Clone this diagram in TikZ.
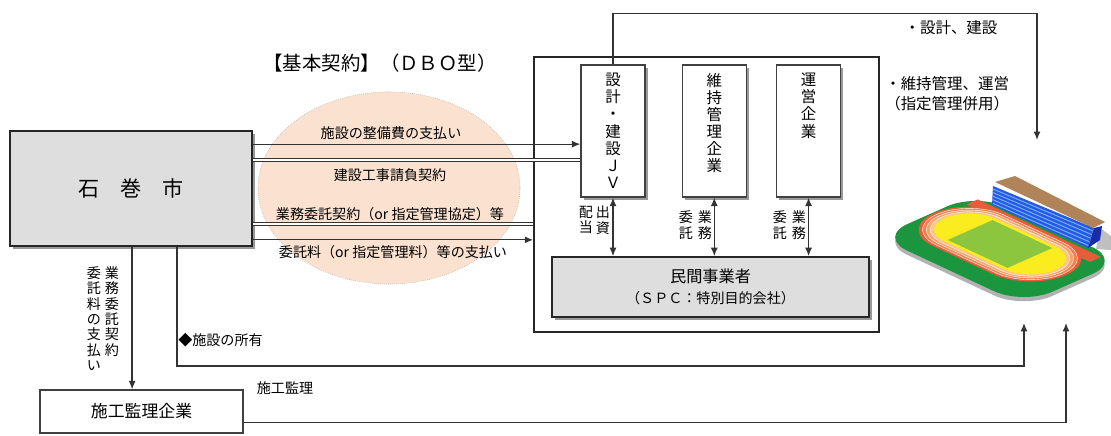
\documentclass[tikz,border=0pt]{standalone}
\usepackage{fontspec}
\setmainfont{Noto Sans CJK JP}
\usetikzlibrary{positioning, calc, shadows, shapes.geometric, arrows.meta}

\definecolor{peach}{RGB}{251,226,208}
\definecolor{boxgray}{RGB}{222,222,222}
\definecolor{turf}{RGB}{28,150,62}
\definecolor{lane1}{RGB}{232,92,58}
\definecolor{lane2}{RGB}{240,128,78}
\definecolor{lane3}{RGB}{246,162,105}
\definecolor{lane4}{RGB}{250,196,140}
\definecolor{sand}{RGB}{250,236,30}
\definecolor{pitch}{RGB}{140,198,62}
\definecolor{seat}{RGB}{40,90,225}
\definecolor{seatrow}{RGB}{110,175,255}
\definecolor{seatend}{RGB}{25,45,170}
\definecolor{roof}{RGB}{176,132,88}

% oval running track: half straight, radius
\newcommand{\runway}[2]{(-#1,-#2) -- (#1,-#2) arc[start angle=-90, end angle=90, radius=#2] -- (-#1,#2) arc[start angle=90, end angle=270, radius=#2] -- cycle}
% four-corner patch on the ground plane
\newcommand{\patch}[4]{(#1,#2) -- (#3,#2) -- (#3,#4) -- (#1,#4) -- cycle}
% patch with round corners: u1, v1, u2, v2, radius
\newcommand{\ground}[5]{({#1+#5},#2) -- ({#3-#5},#2) arc[start angle=-90, end angle=0, radius=#5] -- (#3,{#4-#5}) arc[start angle=0, end angle=90, radius=#5] -- ({#1+#5},#4) arc[start angle=90, end angle=180, radius=#5] -- (#1,{#2+#5}) arc[start angle=180, end angle=270, radius=#5] -- cycle}

\tikzset{
	>={Latex[length=6pt,width=5pt]}, % filled triangular heads
	flow/.style={line width=0.9pt, draw=black!80}, % ordinary connector
	pact/.style={double=white, double distance=1.5pt, line width=0.6pt, draw=black!80}, % contract line
	dropshade/.style={drop shadow={shadow xshift=2pt, shadow yshift=-2pt, fill=black!40, opacity=1}},
	orgbox/.style={draw=black!85, line width=1.2pt, fill=boxgray, dropshade}, % city and SPC
	firmbox/.style={draw=black!75, line width=0.9pt, fill=white, minimum width=1.6cm, minimum height=3.3cm, dropshade}, % member firms
	vtext/.style={align=center, inner sep=0pt, font=\fontsize{11}{12.2}\selectfont}, % text set top to bottom
	vsmall/.style={align=center, inner sep=0pt, font=\fontsize{10}{11}\selectfont},
	lbl/.style={inner sep=0pt, font=\fontsize{10}{12}\selectfont},
}

\begin{document}
\begin{tikzpicture}[x=0.025cm, y=-0.025cm]
	\useasboundingbox (0,0) rectangle (1111,435);

	% contract bubble behind the flows
	\node[ellipse, draw=black!35, densely dotted, fill=peach, minimum width=6.55cm, minimum height=4.8cm] (bubble) at (389,188) {};

	% parties
	\node[orgbox, minimum width=6.05cm, minimum height=2.875cm, font=\fontsize{15}{18}\selectfont] (city) at (131,188.5) {石\quad 巻\quad 市};
	\node[draw=black!85, line width=1.1pt, minimum width=8.625cm, minimum height=6.875cm] (frame) at (706.5,194.5) {};
	\node[firmbox] (jv) at (613,131) {};
	\node[firmbox, right=0.9cm of jv] (maint) {};
	\node[firmbox, right=0.725cm of maint] (ops) {};
	\node[orgbox, minimum width=7.925cm, minimum height=1.5cm, align=center, font=\fontsize{11.5}{15}\selectfont] (spc) at (710.5,287) {民間事業者\\{\fontsize{10}{13}\selectfont （ＳＰＣ：特別目的会社）}};
	\node[draw=black!75, line width=0.9pt, fill=white, minimum width=5.075cm, minimum height=1.075cm, font=\fontsize{12}{14}\selectfont] (super) at (141.5,411.5) {施工監理企業};

	\node[vtext, below=6pt of jv.north] (jvname) {設\\計\\・\\建\\設\\Ｊ\\Ｖ};
	\node[vtext, below=6pt of maint.north] (maintname) {維\\持\\管\\理\\企\\業};
	\node[vtext, below=6pt of ops.north] (opsname) {運\\営\\企\\業};

	% payments and contracts
	\coordinate (pay1) at ($(city.north east)+(0,14)$);
	\coordinate (pact1) at ($(city.north east)+(0,30)$);
	\coordinate (pact2) at ($(city.south east)+(0,-23)$);
	\coordinate (pay2) at ($(city.south east)+(0,-7)$);
	\draw[flow, ->] (pay1) -- (pay1 -| jv.west);
	\draw[pact] (pact1) -- (pact1 -| jv.west);
	\draw[pact] (pact2) -- (pact2 -| frame.west);
	\draw[flow, ->] (pay2) -- (pay2 -| frame.west);

	\node[font=\fontsize{13.8}{16}\selectfont] (kind) at (380,63) {【基本契約】（ＤＢＯ型）};
	\node[lbl] (pay1txt) at (391,133) {施設の整備費の支払い};
	\node[lbl] (pact1txt) at (390,175) {建設工事請負契約};
	\node[lbl] (pact2txt) at (390,214) {業務委託契約（or 指定管理協定）等};
	\node[lbl] (pay2txt) at (393,252) {委託料（or 指定管理料）等の支払い};

	% inside the SPC
	\draw[flow, <->] (jv.south) -- (jv.south |- spc.north);
	\draw[flow, <->] (maint.south) -- (maint.south |- spc.north);
	\draw[flow, <->] (ops.south) -- (ops.south |- spc.north);
	\node[vsmall] (capital) at (603,220) {出\\資};
	\node[vsmall] (dividend) at (586,220) {配\\当};
	\node[vsmall] (maintjob) at (705,225) {業\\務};
	\node[vsmall] (maintfee) at (686,225) {委\\託};
	\node[vsmall] (opsjob) at (799,225) {業\\務};
	\node[vsmall] (opsfee) at (780,225) {委\\託};

	% work on the stadium
	\coordinate (stadtop) at (1037,140);
	\coordinate (own) at (1024,323);
	\coordinate (watch) at (1066,323);
	\draw[flow, ->] (jv.north) -- ++(0,-51) -| (stadtop);
	\node[lbl, font=\fontsize{11}{13}\selectfont] (buildtxt) at (951,28) {・設計、建設};
	\node[lbl, align=left, anchor=west, font=\fontsize{11}{14}\selectfont] (runtxt) at (885,94) {・維持管理、運営\\（指定管理併用）};

	\coordinate (fee) at ($(city.south west)+(123,0)$);
	\coordinate (deed) at ($(city.south west)+(168,0)$);
	\draw[flow, ->] (fee) -- (fee |- super.north);
	\draw[flow, ->] (deed) |- ($(own)+(0,43)$) -- (own);
	\draw[flow, ->] ($(super.south east)+(0,-11)$) -| (watch);
	\node[vsmall, anchor=north] (feecol1) at (112,266) {業\\務\\委\\託\\契\\約};
	\node[vsmall, anchor=north] (feecol2) at (94,266) {委\\託\\料\\の\\支\\払\\い};
	\node[lbl, anchor=west] (owntxt) at (178,340) {◆施設の所有};
	\node[lbl] (watchtxt) at (285,388) {施工監理};

	% stadium, drawn on the ground plane
	\begin{scope}[shift={(1000,244)}, x={(0.02265cm,-0.01058cm)}, y={(0.02285cm,0.01015cm)}]
		\fill[black!30, yshift=-3pt] \ground{-74}{-60}{86}{48}{32};
		\fill[turf] \ground{-74}{-60}{86}{48}{32};
		\fill[lane1] \patch{-66}{29}{70}{41};
		\fill[lane1] \runway{33}{40};
		\fill[lane2] \runway{33}{37};
		\fill[lane3] \runway{33}{34};
		\fill[lane4] \runway{33}{31};
		\foreach \r in {31,34,37} \draw[white, line width=0.3pt] \runway{33}{\r};
		\fill[sand] \runway{33}{28};
		\fill[pitch] \patch{-33}{-24.5}{33}{24.5};
	\end{scope}
	\fill[black!25] (1100,228) -- (1111,236) -- (1111,250) -- (1096,249) -- cycle;
	\fill[seat] (993,186) -- (992,205) -- (1088,248) -- (1094,228) -- cycle;
	\fill[seatend] (1088,248) -- (1100,240) -- (1102,226) -- (1094,228) -- cycle;
	\foreach \k in {0,...,4}
		\draw[seatrow, line width=0.7pt] (993,{189+3.6*\k}) -- ({1093-1.2*\k},{231+3.6*\k});
	\fill[roof] (995,182) -- (1015,176) -- (1105,222) -- (1093,228) -- cycle;
\end{tikzpicture}
\end{document}
